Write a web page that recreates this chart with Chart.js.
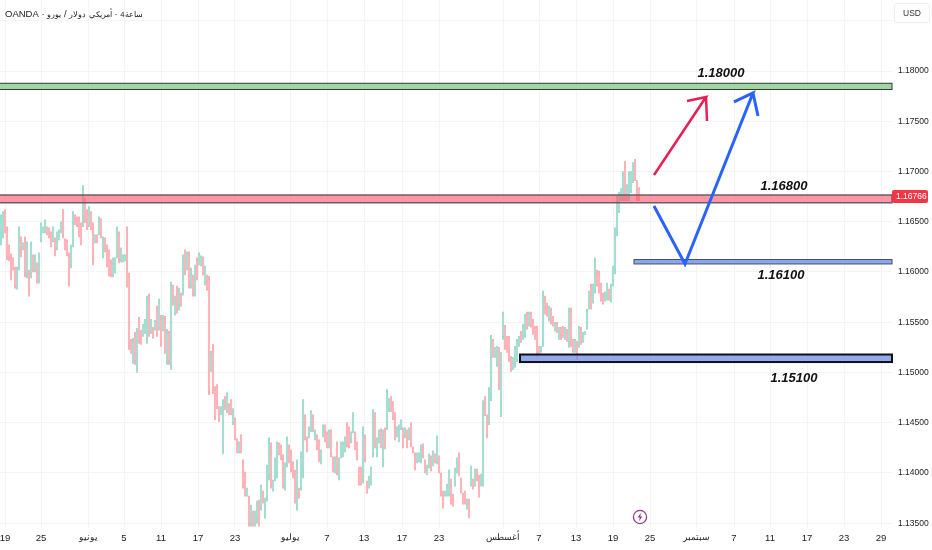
<!DOCTYPE html>
<html>
<head>
<meta charset="utf-8">
<title>EURUSD 4H</title>
<script src="https://cdn.jsdelivr.net/npm/chart.js@4/dist/chart.umd.min.js"></script>
<style>
    html, body { margin: 0; padding: 0; background: #fff; }
    #wrap { position: relative; width: 932px; height: 550px; overflow: hidden; }
    #header { position: absolute; left: 5px; top: 8px; font: 9.5px "Liberation Sans", sans-serif; color: #222; white-space: nowrap; direction: ltr; }
    #header span { unicode-bidi: isolate; font-size: 7.6px; }
    #header span.latin { font-size: 9.5px; }
    #usd { position: absolute; left: 894px; top: 3px; width: 34px; height: 18px; border: 1px solid #ececec; border-radius: 3px; font: 8.5px/18px "Liberation Sans", sans-serif; color: #333; text-align: center; }
    #bolt { position: absolute; left: 631px; top: 508px; }
</style>
</head>
<body>
<div id="wrap">
    <canvas id="chart" width="932" height="550"></canvas>
    <div id="header"><span class="latin">OANDA</span> · <span>يورو</span> / <span>دولار</span> <span>أمريكي</span> · <span>4ساعة</span></div>
    <div id="usd">USD</div>
    <svg id="bolt" width="18" height="18" viewBox="0 0 18 18">
        <circle cx="9" cy="9" r="6.6" fill="#fff" stroke="#8e3d86" stroke-width="1.2"/>
        <path d="M10 4.8 L6.6 9.6 L8.8 9.6 L8 13.2 L11.4 8.4 L9.2 8.4 Z" fill="#8e3d86"/>
    </svg>
</div>
<script>
// 4 hour candles
const opens = [
    1.1632,1.1638,1.1658,1.1640,1.1624,1.1614,1.1612,1.1602,1.1587,1.1609,1.1632,1.1623,1.1628,1.1600,1.1598,1.1600,1.1614,1.1603,1.1606,1.1594,
    1.1633,1.1640,1.1641,1.1644,1.1642,1.1638,1.1632,1.1631,1.1625,1.1634,1.1641,1.1657,1.1631,1.1629,1.1614,1.1608,1.1631,1.1655,1.1653,1.1652,
    1.1645,1.1652,1.1669,1.1659,1.1648,1.1657,1.1642,1.1630,1.1636,1.1640,1.1650,1.1618,1.1632,1.1623,1.1618,1.1609,1.1598,1.1601,1.1619,1.1635,
    1.1612,1.1611,1.1612,1.1600,1.1595,1.1531,1.1513,1.1535,1.1508,1.1551,1.1540,1.1538,1.1541,1.1536,1.1571,1.1541,1.1543,1.1544,1.1561,1.1547,
    1.1552,1.1544,1.1550,1.1514,1.1536,1.1512,1.1584,1.1560,1.1582,1.1566,1.1577,1.1584,1.1618,1.1605,1.1614,1.1587,1.1594,1.1581,1.1610,1.1609,
    1.1608,1.1612,1.1590,1.1595,1.1590,1.1504,1.1520,1.1481,1.1484,1.1464,1.1459,1.1428,1.1474,1.1463,1.1467,1.1471,1.1451,1.1451,1.1432,1.1422,
    1.1435,1.1408,1.1397,1.1378,1.1371,1.1351,1.1360,1.1349,1.1354,1.1368,1.1367,1.1380,1.1358,1.1378,1.1400,1.1423,1.1384,1.1396,1.1401,1.1428,
    1.1426,1.1413,1.1387,1.1411,1.1425,1.1419,1.1408,1.1397,1.1371,1.1383,1.1389,1.1408,1.1454,1.1434,1.1437,1.1444,1.1455,1.1435,1.1436,1.1429,
    1.1411,1.1438,1.1445,1.1438,1.1428,1.1439,1.1414,1.1403,1.1426,1.1397,1.1418,1.1419,1.1424,1.1446,1.1443,1.1432,1.1443,1.1438,1.1428,1.1403,
    1.1403,1.1399,1.1434,1.1390,1.1387,1.1391,1.1424,1.1454,1.1419,1.1432,1.1441,1.1412,1.1441,1.1450,1.1463,1.1474,1.1468,1.1456,1.1438,1.1434,
    1.1445,1.1442,1.1437,1.1440,1.1435,1.1446,1.1425,1.1417,1.1412,1.1413,1.1413,1.1427,1.1411,1.1400,1.1407,1.1415,1.1409,1.1418,1.1414,1.1414,
    1.1396,1.1379,1.1378,1.1379,1.1381,1.1390,1.1377,1.1390,1.1402,1.1416,1.1392,1.1378,1.1380,1.1366,1.1371,1.1390,1.1392,1.1390,1.1402,1.1394,
    1.1389,1.1392,1.1473,1.1454,1.1454,1.1480,1.1530,1.1517,1.1509,1.1518,1.1480,1.1537,1.1543,1.1533,1.1532,1.1513,1.1505,1.1508,1.1515,1.1528,
    1.1539,1.1535,1.1539,1.1557,1.1548,1.1557,1.1550,1.1544,1.1541,1.1525,1.1521,1.1533,1.1573,1.1567,1.1553,1.1561,1.1554,1.1543,1.1548,1.1535,
    1.1543,1.1544,1.1535,1.1541,1.1530,1.1560,1.1531,1.1522,1.1528,1.1528,1.1542,1.1532,1.1538,1.1546,1.1566,1.1584,1.1572,1.1585,1.1599,1.1597,
    1.1586,1.1577,1.1573,1.1575,1.1581,1.1573,1.1589,1.1606,1.1644,1.1662,1.1673,1.1676,1.1703,1.1674,1.1676,1.1682,1.1692,1.1708,1.1688,1.1682
];
const highs = [
    1.1657,1.1660,1.1662,1.1645,1.1627,1.1618,1.1614,1.1605,1.1605,1.1645,1.1635,1.1629,1.1635,1.1630,1.1602,1.1630,1.1617,1.1617,1.1609,1.1619,
    1.1649,1.1645,1.1652,1.1645,1.1644,1.1640,1.1645,1.1634,1.1640,1.1642,1.1650,1.1662,1.1633,1.1632,1.1619,1.1627,1.1660,1.1657,1.1655,1.1655,
    1.1649,1.1686,1.1673,1.1662,1.1665,1.1660,1.1649,1.1637,1.1637,1.1655,1.1653,1.1635,1.1634,1.1627,1.1622,1.1612,1.1614,1.1614,1.1645,1.1640,
    1.1624,1.1617,1.1617,1.1645,1.1599,1.1533,1.1534,1.1540,1.1544,1.1555,1.1542,1.1548,1.1553,1.1576,1.1578,1.1553,1.1545,1.1552,1.1566,1.1573,
    1.1557,1.1557,1.1556,1.1543,1.1541,1.1590,1.1587,1.1576,1.1586,1.1584,1.1579,1.1617,1.1622,1.1620,1.1620,1.1604,1.1597,1.1607,1.1614,1.1619,
    1.1616,1.1615,1.1606,1.1597,1.1596,1.1521,1.1528,1.1486,1.1488,1.1466,1.1466,1.1473,1.1476,1.1480,1.1469,1.1473,1.1464,1.1455,1.1434,1.1431,
    1.1438,1.1413,1.1401,1.1385,1.1377,1.1368,1.1362,1.1362,1.1372,1.1373,1.1388,1.1382,1.1375,1.1408,1.1435,1.1430,1.1393,1.1415,1.1431,1.1430,
    1.1428,1.1418,1.1410,1.1436,1.1428,1.1423,1.1411,1.1403,1.1413,1.1385,1.1421,1.1473,1.1458,1.1436,1.1446,1.1462,1.1458,1.1443,1.1438,1.1433,
    1.1423,1.1448,1.1448,1.1441,1.1443,1.1443,1.1416,1.1416,1.1431,1.1415,1.1431,1.1431,1.1436,1.1450,1.1446,1.1441,1.1460,1.1441,1.1431,1.1406,
    1.1406,1.1446,1.1438,1.1392,1.1397,1.1406,1.1463,1.1460,1.1435,1.1443,1.1444,1.1443,1.1445,1.1483,1.1474,1.1476,1.1471,1.1460,1.1446,1.1448,
    1.1453,1.1445,1.1445,1.1443,1.1445,1.1450,1.1426,1.1420,1.1420,1.1420,1.1428,1.1429,1.1413,1.1408,1.1419,1.1417,1.1422,1.1419,1.1437,1.1417,
    1.1400,1.1382,1.1382,1.1389,1.1403,1.1394,1.1379,1.1405,1.1415,1.1420,1.1395,1.1380,1.1382,1.1374,1.1374,1.1407,1.1394,1.1404,1.1404,1.1398,
    1.1399,1.1472,1.1476,1.1458,1.1485,1.1537,1.1533,1.1525,1.1526,1.1525,1.1520,1.1560,1.1547,1.1536,1.1536,1.1516,1.1515,1.1526,1.1533,1.1536,
    1.1541,1.1548,1.1558,1.1560,1.1560,1.1560,1.1553,1.1546,1.1546,1.1526,1.1526,1.1581,1.1576,1.1569,1.1566,1.1564,1.1556,1.1550,1.1550,1.1545,
    1.1545,1.1546,1.1545,1.1543,1.1564,1.1564,1.1533,1.1533,1.1531,1.1546,1.1545,1.1540,1.1541,1.1563,1.1581,1.1588,1.1588,1.1614,1.1602,1.1601,
    1.1589,1.1579,1.1580,1.1589,1.1583,1.1588,1.1606,1.1644,1.1676,1.1679,1.1683,1.1700,1.1710,1.1687,1.1700,1.1700,1.1709,1.1712,1.1691,1.1684
];
const lows = [
    1.1627,1.1634,1.1639,1.1612,1.1611,1.1592,1.1602,1.1584,1.1583,1.1602,1.1615,1.1622,1.1595,1.1594,1.1576,1.1594,1.1600,1.1600,1.1589,1.1589,
    1.1630,1.1639,1.1639,1.1637,1.1634,1.1625,1.1630,1.1616,1.1622,1.1632,1.1639,1.1634,1.1622,1.1616,1.1586,1.1604,1.1625,1.1647,1.1645,1.1635,
    1.1627,1.1645,1.1649,1.1642,1.1645,1.1642,1.1607,1.1629,1.1629,1.1637,1.1634,1.1614,1.1620,1.1605,1.1596,1.1595,1.1595,1.1599,1.1614,1.1609,
    1.1610,1.1610,1.1611,1.1585,1.1523,1.1519,1.1509,1.1508,1.1500,1.1529,1.1528,1.1536,1.1539,1.1529,1.1536,1.1539,1.1534,1.1542,1.1536,1.1542,
    1.1526,1.1541,1.1519,1.1508,1.1508,1.1503,1.1567,1.1557,1.1559,1.1562,1.1566,1.1577,1.1597,1.1602,1.1584,1.1584,1.1576,1.1576,1.1592,1.1607,
    1.1606,1.1597,1.1587,1.1582,1.1478,1.1501,1.1479,1.1453,1.1464,1.1451,1.1458,1.1419,1.1463,1.1460,1.1458,1.1458,1.1448,1.1433,1.1420,1.1420,
    1.1420,1.1385,1.1377,1.1377,1.1347,1.1347,1.1347,1.1347,1.1350,1.1347,1.1363,1.1370,1.1355,1.1372,1.1393,1.1385,1.1382,1.1392,1.1395,1.1418,
    1.1413,1.1385,1.1383,1.1406,1.1410,1.1401,1.1395,1.1370,1.1363,1.1375,1.1383,1.1395,1.1433,1.1421,1.1435,1.1441,1.1441,1.1433,1.1423,1.1411,
    1.1409,1.1436,1.1431,1.1425,1.1425,1.1416,1.1401,1.1400,1.1398,1.1393,1.1415,1.1416,1.1421,1.1426,1.1425,1.1430,1.1440,1.1423,1.1413,1.1388,
    1.1388,1.1390,1.1411,1.1380,1.1385,1.1388,1.1416,1.1425,1.1416,1.1430,1.1425,1.1406,1.1424,1.1443,1.1461,1.1461,1.1453,1.1433,1.1436,1.1431,
    1.1443,1.1425,1.1435,1.1425,1.1433,1.1426,1.1420,1.1403,1.1410,1.1411,1.1410,1.1415,1.1400,1.1398,1.1405,1.1402,1.1407,1.1410,1.1409,1.1400,
    1.1377,1.1365,1.1377,1.1377,1.1377,1.1369,1.1367,1.1387,1.1400,1.1397,1.1380,1.1369,1.1369,1.1364,1.1355,1.1387,1.1384,1.1387,1.1392,1.1376,
    1.1387,1.1387,1.1457,1.1435,1.1448,1.1472,1.1515,1.1515,1.1506,1.1483,1.1456,1.1533,1.1523,1.1520,1.1511,1.1501,1.1503,1.1505,1.1511,1.1526,
    1.1530,1.1533,1.1535,1.1543,1.1546,1.1545,1.1538,1.1533,1.1516,1.1518,1.1520,1.1526,1.1558,1.1556,1.1551,1.1548,1.1546,1.1541,1.1540,1.1533,
    1.1533,1.1535,1.1533,1.1531,1.1525,1.1526,1.1520,1.1520,1.1513,1.1525,1.1528,1.1530,1.1538,1.1543,1.1563,1.1563,1.1569,1.1579,1.1586,1.1579,
    1.1571,1.1568,1.1571,1.1572,1.1572,1.1570,1.1586,1.1598,1.1636,1.1659,1.1671,1.1671,1.1671,1.1671,1.1671,1.1679,1.1689,1.1691,1.1671,1.1671
];
const closes = [
    1.1652,1.1656,1.1643,1.1617,1.1614,1.1596,1.1604,1.1587,1.1601,1.1638,1.1618,1.1628,1.1602,1.1624,1.1580,1.1624,1.1603,1.1614,1.1592,1.1614,
    1.1646,1.1644,1.1650,1.1638,1.1636,1.1627,1.1643,1.1619,1.1637,1.1640,1.1648,1.1639,1.1624,1.1619,1.1591,1.1623,1.1654,1.1649,1.1647,1.1638,
    1.1631,1.1679,1.1653,1.1645,1.1662,1.1645,1.1614,1.1636,1.1630,1.1652,1.1637,1.1631,1.1622,1.1609,1.1600,1.1598,1.1611,1.1612,1.1640,1.1614,
    1.1622,1.1616,1.1616,1.1588,1.1530,1.1521,1.1530,1.1513,1.1538,1.1533,1.1530,1.1546,1.1551,1.1569,1.1543,1.1551,1.1536,1.1550,1.1541,1.1568,
    1.1531,1.1554,1.1525,1.1537,1.1513,1.1581,1.1570,1.1573,1.1563,1.1580,1.1568,1.1610,1.1601,1.1617,1.1590,1.1601,1.1579,1.1602,1.1596,1.1617,
    1.1614,1.1600,1.1603,1.1584,1.1486,1.1518,1.1487,1.1458,1.1468,1.1453,1.1465,1.1464,1.1465,1.1477,1.1460,1.1460,1.1461,1.1437,1.1422,1.1429,
    1.1423,1.1390,1.1381,1.1384,1.1352,1.1364,1.1349,1.1360,1.1368,1.1351,1.1384,1.1372,1.1372,1.1402,1.1428,1.1392,1.1391,1.1411,1.1425,1.1420,
    1.1415,1.1390,1.1406,1.1431,1.1413,1.1405,1.1398,1.1375,1.1405,1.1377,1.1415,1.1460,1.1437,1.1423,1.1444,1.1459,1.1444,1.1441,1.1425,1.1415,
    1.1421,1.1446,1.1434,1.1428,1.1440,1.1420,1.1403,1.1413,1.1403,1.1411,1.1428,1.1428,1.1433,1.1430,1.1428,1.1439,1.1457,1.1426,1.1416,1.1391,
    1.1391,1.1437,1.1415,1.1382,1.1395,1.1403,1.1455,1.1431,1.1432,1.1441,1.1428,1.1437,1.1428,1.1476,1.1472,1.1463,1.1456,1.1437,1.1444,1.1445,
    1.1451,1.1428,1.1443,1.1428,1.1443,1.1430,1.1421,1.1406,1.1418,1.1418,1.1425,1.1417,1.1402,1.1406,1.1417,1.1404,1.1420,1.1411,1.1432,1.1403,
    1.1381,1.1368,1.1381,1.1387,1.1399,1.1373,1.1369,1.1402,1.1413,1.1401,1.1383,1.1371,1.1371,1.1372,1.1358,1.1404,1.1386,1.1401,1.1394,1.1380,
    1.1397,1.1462,1.1460,1.1439,1.1479,1.1530,1.1518,1.1523,1.1523,1.1490,1.1513,1.1556,1.1527,1.1523,1.1515,1.1504,1.1513,1.1523,1.1529,1.1534,
    1.1532,1.1546,1.1554,1.1546,1.1558,1.1548,1.1541,1.1535,1.1521,1.1520,1.1525,1.1574,1.1561,1.1558,1.1564,1.1551,1.1548,1.1548,1.1542,1.1543,
    1.1535,1.1537,1.1543,1.1533,1.1560,1.1531,1.1522,1.1531,1.1516,1.1543,1.1531,1.1538,1.1541,1.1560,1.1578,1.1567,1.1585,1.1608,1.1589,1.1583,
    1.1574,1.1570,1.1578,1.1586,1.1574,1.1585,1.1603,1.1636,1.1668,1.1676,1.1681,1.1695,1.1678,1.1684,1.1695,1.1697,1.1706,1.1694,1.1675,1.1677
];

// x axis: bar position of each date label
const tickBars = [2, 20, 43.5, 61.5, 80, 98.5, 117, 144.5, 163, 181.5, 200.5, 219, 251, 269, 287.5, 306, 324.5, 347.5, 366.5, 384.5, 403, 421.5, 440];
const tickLabels = ['19', '25', 'يونيو', '5', '11', '17', '23', 'يوليو', '7', '13', '17', '23', 'أغسطس', '7', '13', '19', '25', 'سبتمبر', '7', '11', '17', '23', '29'];
const priceTicks = [1.135, 1.14, 1.145, 1.15, 1.155, 1.16, 1.165, 1.17, 1.175, 1.18, 1.185];
const lastPrice = 1.16766;

// drawn zones
const zoneStarts = [-1, -1, 316.5, 259.5];
const zoneEnds = [445.5, 445.5, 445.5, 445.5];
const zoneTops = [1.17878, 1.16766, 1.16124, 1.15179];
const zoneBottoms = [1.17816, 1.16689, 1.16080, 1.15104];
const zoneFills = ['rgba(129,199,132,0.75)', 'rgba(255,82,97,0.6)', 'rgba(98,137,238,0.75)', 'rgba(110,140,238,0.75)'];
const zoneLines = ['#2f3b30', '#6f5c74', '#4a4f5c', '#111111'];
const zoneLineWidths = [1, 1.5, 1, 2];

// arrows
const redArrowBars = [326.5, 352.5, 343, 352.5, 353];
const redArrowPrices = [1.16965, 1.17741, 1.17701, 1.17741, 1.17502];
const blueArrowBars = [326.5, 342, 376, 366.5, 376, 378.5];
const blueArrowPrices = [1.16657, 1.16080, 1.17781, 1.17692, 1.17781, 1.17552];

// level labels
const levelTexts = ['1.18000', '1.16800', '1.16100', '1.15100'];
const levelBars = [360, 391.5, 390, 396.5];
const levelPrices = [1.17975, 1.16856, 1.15970, 1.14945];

const isUp = i => closes[i] >= opens[i];
const isArabic = text => /[^0-9]/.test(text);

const wicks = highs.map((h, i) => ({ x: i, y: [lows[i], h] }));
const bodies = opens.map((o, i) => ({ x: i, y: [Math.min(o, closes[i]), Math.max(o, closes[i])] }));

function toPoints(bars, prices) {
    return bars.map((b, i) => ({ x: b, y: prices[i] }));
}

// Chart.js pads the plot so edge labels fit, here the plot has to fill the canvas
function noPadding(scale) {
    scale.paddingLeft = 0;
    scale.paddingRight = 0;
    scale.paddingTop = 0;
    scale.paddingBottom = 0;
}

// Zones go under the arrows but over the candles
const zonesPlugin = {
    id: 'zones',
    afterDatasetDraw(chart, args) {
        if (chart.data.datasets[args.index].label !== 'bodies') return;
        const { ctx, scales: { x, y } } = chart;
        ctx.save();
        zoneStarts.forEach((start, i) => {
            const left = x.getPixelForValue(start);
            const right = x.getPixelForValue(zoneEnds[i]);
            const top = y.getPixelForValue(zoneTops[i]);
            const bottom = y.getPixelForValue(zoneBottoms[i]);
            ctx.fillStyle = zoneFills[i];
            ctx.fillRect(left, top, right - left, bottom - top);
            ctx.strokeStyle = zoneLines[i];
            ctx.lineWidth = zoneLineWidths[i];
            ctx.strokeRect(left, top, right - left, bottom - top);
        });
        ctx.restore();
    }
};

const labelsPlugin = {
    id: 'labels',
    afterDraw(chart) {
        const { ctx, scales: { x, y }, chartArea } = chart;
        ctx.save();
        ctx.fillStyle = '#111';
        ctx.font = 'italic bold 13px "Liberation Sans", sans-serif';
        ctx.textAlign = 'center';
        ctx.textBaseline = 'middle';
        levelTexts.forEach((text, i) => {
            ctx.fillText(text, x.getPixelForValue(levelBars[i]), y.getPixelForValue(levelPrices[i]));
        });

        // last price tag
        const tagY = y.getPixelForValue(lastPrice);
        ctx.fillStyle = '#f23645';
        ctx.beginPath();
        ctx.roundRect(chartArea.right, tagY - 5, 36, 13, 2);
        ctx.fill();
        ctx.fillStyle = '#fff';
        ctx.font = '8.5px "Liberation Sans", sans-serif';
        ctx.textAlign = 'left';
        ctx.fillText(lastPrice.toFixed(5), chartArea.right + 4, tagY + 1.5);
        ctx.restore();
    }
};

new Chart(document.getElementById('chart'), {
    type: 'bar',
    data: {
        datasets: [
            {
                label: 'blue arrow',
                type: 'line',
                data: toPoints(blueArrowBars, blueArrowPrices),
                borderColor: '#2962ff',
                borderWidth: 3,
                pointRadius: 0,
                tension: 0,
                order: 0
            },
            {
                label: 'red arrow',
                type: 'line',
                data: toPoints(redArrowBars, redArrowPrices),
                borderColor: '#e91e53',
                borderWidth: 2.5,
                pointRadius: 0,
                tension: 0,
                order: 1
            },
            {
                label: 'bodies',
                data: bodies,
                barThickness: 1.5,
                grouped: false,
                backgroundColor: ctx => isUp(ctx.dataIndex) ? '#a6dfd2' : '#ffb4ba',
                order: 2
            },
            {
                label: 'wicks',
                data: wicks,
                barThickness: 1,
                grouped: false,
                backgroundColor: ctx => isUp(ctx.dataIndex) ? '#8dd5c6' : '#ffa0a9',
                order: 3
            }
        ]
    },
    options: {
        responsive: false,
        animation: false,
        maintainAspectRatio: false,
        layout: { padding: 0 },
        plugins: { legend: { display: false }, tooltip: { enabled: false } },
        scales: {
            x: {
                type: 'linear',
                offset: false,
                min: -0.5,
                max: 445.5,
                grid: { color: '#f4f4f6', offset: false, drawTicks: false },
                border: { display: false },
                afterBuildTicks: scale => { scale.ticks = tickBars.map(v => ({ value: v })); },
                afterFit: scale => { scale.height = 22; noPadding(scale); },
                ticks: {
                    autoSkip: false,
                    maxRotation: 0,
                    padding: 5,
                    color: '#222',
                    font: ctx => ({ family: '"Liberation Sans", sans-serif', size: isArabic(tickLabels[ctx.index] || '') ? 8.5 : 9.5 }),
                    callback: (value, index) => tickLabels[index]
                }
            },
            y: {
                position: 'right',
                min: 1.134527,
                max: 1.187065,
                grid: { color: '#f4f4f6', drawTicks: false },
                border: { display: false },
                afterBuildTicks: scale => { scale.ticks = priceTicks.map(v => ({ value: v })); },
                afterFit: scale => { scale.width = 40; noPadding(scale); },
                ticks: {
                    autoSkip: false,
                    padding: 6,
                    color: '#222',
                    font: { family: '"Liberation Sans", sans-serif', size: 8.5 },
                    callback: value => value === 1.185 ? '' : value.toFixed(5)
                }
            }
        }
    },
    plugins: [zonesPlugin, labelsPlugin]
});
</script>
</body>
</html>
